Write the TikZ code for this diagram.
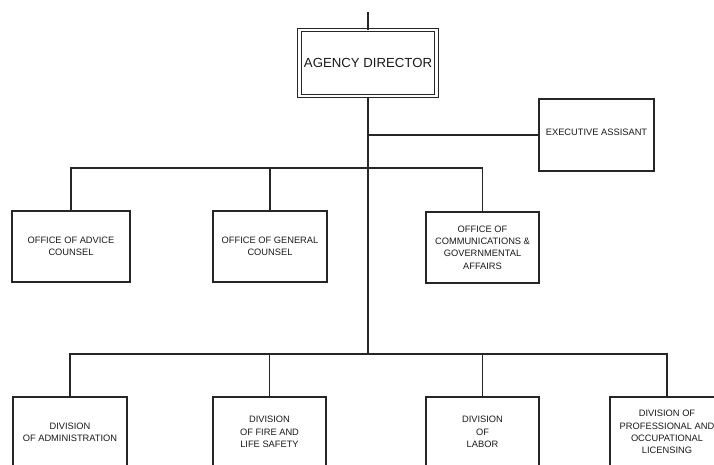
\documentclass[tikz,border=0pt]{standalone}
\usepackage{fontspec}
\setmainfont{Liberation Sans}
\begin{document}
\begin{tikzpicture}[x=1pt,y=-1pt,
  ln/.style={draw=black!85, line width=1.2pt},
  box/.style={draw=black!85, line width=1.2pt, rectangle, inner sep=1pt, align=center,
    font=\fontsize{9.3}{12.3}\selectfont, text=black!90},
  dirbox/.style={draw=black!85, line width=1pt, double, double distance=2.6pt, rectangle,
    minimum width=137pt, minimum height=66pt, font=\fontsize{13.2}{15}\selectfont, text=black!90}]
\useasboundingbox (0,0) rectangle (714,464);
\clip (0,0) rectangle (714,464);
% director
\node[dirbox] (dir) at (368,63) {AGENCY DIRECTOR};
\coordinate (top) at (368,12);
\draw[ln] (top) -- (dir.north);
% executive assistant
\node[box, minimum width=115pt, minimum height=72pt] (ea) at (596.5,135) {\raisebox{6pt}{EXECUTIVE ASSISANT}};
% offices
\node[box, minimum width=118pt, minimum height=71pt] (adv) at (71,246.5) {OFFICE OF ADVICE\\COUNSEL};
\node[box, minimum width=114pt, minimum height=71pt] (gen) at (270,246.5) {OFFICE OF GENERAL\\COUNSEL};
\node[box, minimum width=113pt, minimum height=71pt] (com) at (482.5,247.5) {OFFICE OF\\COMMUNICATIONS \&\\GOVERNMENTAL\\AFFAIRS};
% divisions
\node[box, minimum width=114pt, minimum height=70pt] (adm) at (70,432) {DIVISION\\OF ADMINISTRATION};
\node[box, minimum width=113pt, minimum height=70pt] (fir) at (269.5,432) {DIVISION\\OF FIRE AND\\LIFE SAFETY};
\node[box, minimum width=113pt, minimum height=70pt] (lab) at (482.5,432) {DIVISION\\OF\\LABOR};
\node[box, minimum width=114pt, minimum height=70pt] (pro) at (667,432) {DIVISION OF\\PROFESSIONAL AND\\OCCUPATIONAL\\LICENSING};
% buses
\coordinate (busA) at (368,168);
\coordinate (busB) at (368,354);
\draw[ln] (dir.south) -- (busB);
\draw[ln] (ea.west) -- (ea.west -| dir.south);
\draw[ln] (adv.north) |- (busA) -| (com.north);
\draw[ln] (gen.north) -- (gen.north |- busA);
\draw[ln] (adm.north) |- (busB) -| (pro.north);
\draw[ln] (fir.north) -- (fir.north |- busB);
\draw[ln] (lab.north) -- (lab.north |- busB);
\end{tikzpicture}
\end{document}
